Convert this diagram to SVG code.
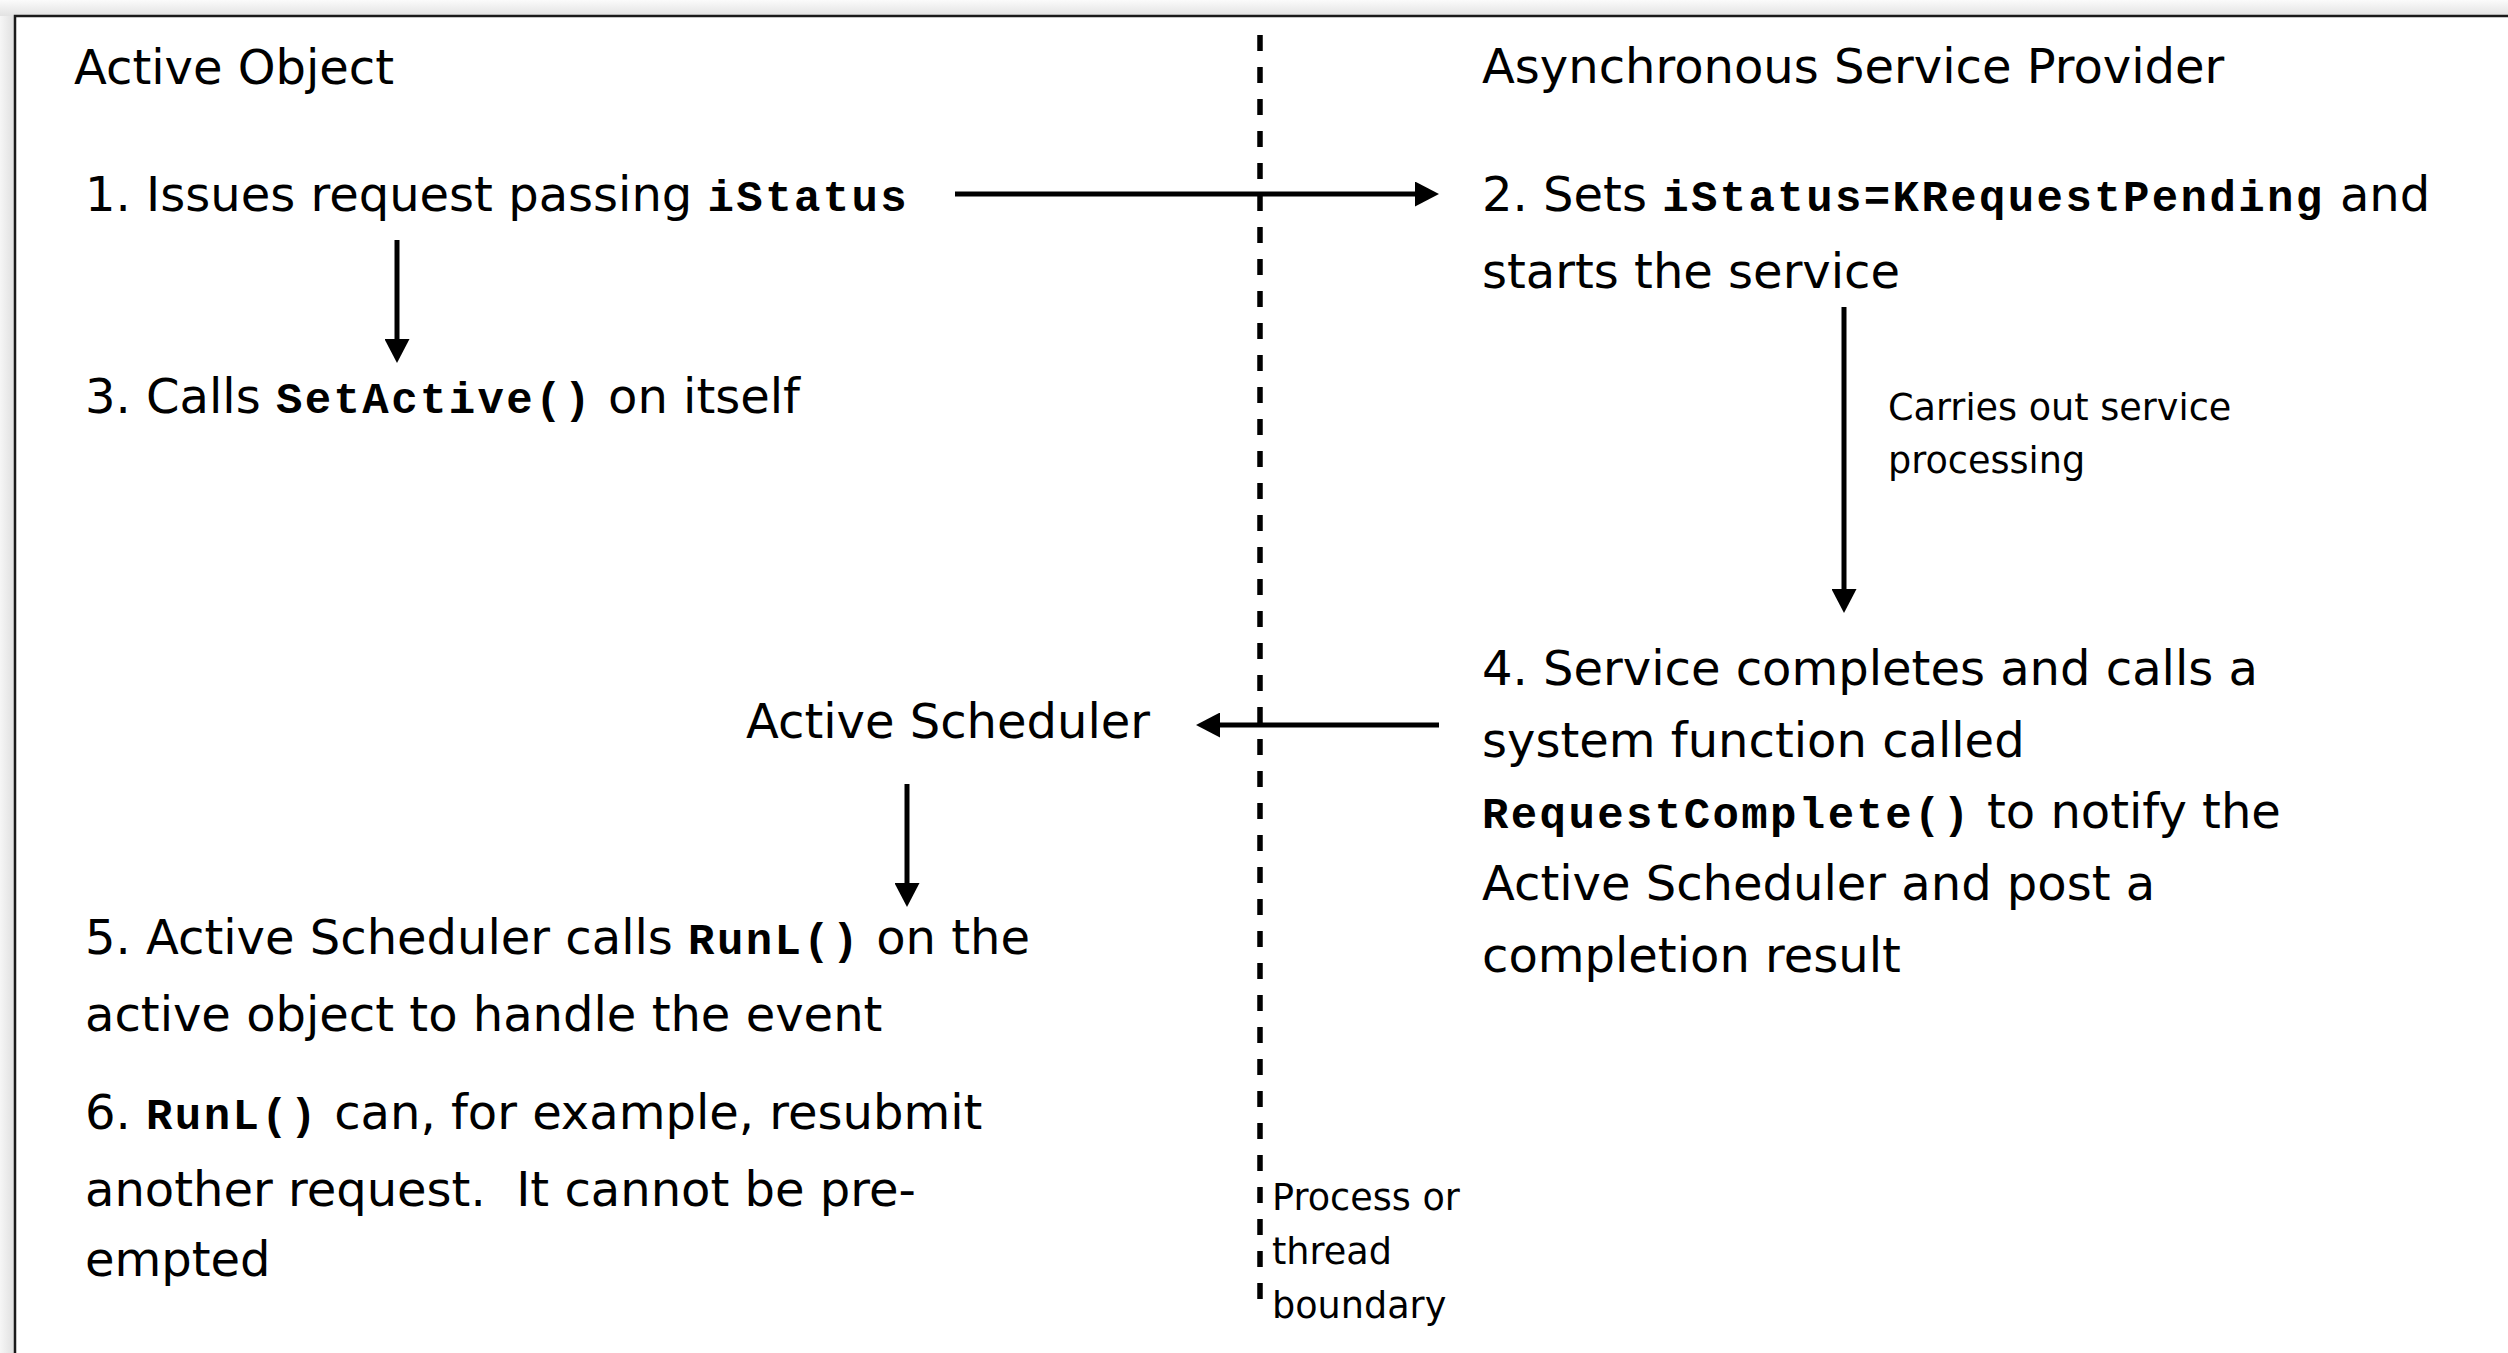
<svg xmlns="http://www.w3.org/2000/svg" width="2508" height="1353" viewBox="0 0 2508 1353">
  <style>
    .t { font-family: "DejaVu Sans", Verdana, sans-serif; font-size: 48px; fill: #000; }
    .s { font-family: "DejaVu Sans", Verdana, sans-serif; font-size: 36.6px; fill: #000; }
    .code { font-family: "Liberation Mono", "Courier New", monospace; font-weight: bold; font-size: 44px; letter-spacing: 2.4px; }
    .arrow { stroke: #000; stroke-width: 5; fill: none; marker-end: url(#head); }
    .boundary { stroke: #000; stroke-width: 5.5; stroke-dasharray: 16 16; fill: none; }
    .frame { stroke: #1a1a1a; stroke-width: 2.5; fill: none; }
  </style>
  <defs>
    <marker id="head" markerUnits="userSpaceOnUse" viewBox="0 0 24 25" markerWidth="24" markerHeight="25" refX="0" refY="12.5" orient="auto">
      <path d="M0,0 L24,12.5 L0,25 Z" fill="#000"/>
    </marker>
    <linearGradient id="shadeTop" x1="0" y1="0" x2="0" y2="1">
      <stop offset="0" stop-color="#fbfbfb"/>
      <stop offset="1" stop-color="#e2e2e2"/>
    </linearGradient>
    <linearGradient id="shadeLeft" x1="0" y1="0" x2="1" y2="0">
      <stop offset="0" stop-color="#f6f6f6"/>
      <stop offset="1" stop-color="#dedede"/>
    </linearGradient>
  </defs>

  <!-- page background with soft edge shading -->
  <rect x="0" y="0" width="2508" height="1353" fill="#fff"/>
  <rect x="0" y="0" width="2508" height="16" fill="url(#shadeTop)"/>
  <rect x="0" y="16" width="15" height="1337" fill="url(#shadeLeft)"/>
  <path class="frame" d="M15,1353 V16 H2508"/>

  <!-- thread / process boundary -->
  <g id="boundary">
    <line class="boundary" x1="1260" y1="35" x2="1260" y2="1300"/>
    <text class="s" x="1272" y="1210">Process or</text>
    <text class="s" x="1272" y="1264">thread</text>
    <text class="s" x="1272" y="1318">boundary</text>
  </g>

  <!-- column headings -->
  <g id="active-object-heading">
    <text class="t" x="74" y="84">Active Object</text>
  </g>
  <g id="provider-heading">
    <text class="t" x="1482" y="83">Asynchronous Service Provider</text>
  </g>

  <!-- steps -->
  <g id="step1">
    <text class="t" x="85" y="211">1. Issues request passing <tspan class="code">iStatus</tspan></text>
  </g>
  <g id="step2">
    <text class="t" x="1482" y="211">2. Sets <tspan class="code">iStatus=KRequestPending</tspan> and</text>
    <text class="t" x="1482" y="288">starts the service</text>
  </g>
  <g id="step3">
    <text class="t" x="85" y="413">3. Calls <tspan class="code">SetActive()</tspan> on itself</text>
  </g>
  <g id="processing-note">
    <text class="s" x="1888" y="420">Carries out service</text>
    <text class="s" x="1888" y="473">processing</text>
  </g>
  <g id="step4">
    <text class="t" x="1482" y="685">4. Service completes and calls a</text>
    <text class="t" x="1482" y="757">system function called</text>
    <text class="t" x="1482" y="828"><tspan class="code">RequestComplete()</tspan> to notify the</text>
    <text class="t" x="1482" y="900">Active Scheduler and post a</text>
    <text class="t" x="1482" y="972">completion result</text>
  </g>
  <g id="active-scheduler">
    <text class="t" x="746" y="738">Active Scheduler</text>
  </g>
  <g id="step5">
    <text class="t" x="85" y="954">5. Active Scheduler calls <tspan class="code">RunL()</tspan> on the</text>
    <text class="t" x="85" y="1031">active object to handle the event</text>
  </g>
  <g id="step6">
    <text class="t" x="85" y="1129">6. <tspan class="code">RunL()</tspan> can, for example, resubmit</text>
    <text class="t" x="85" y="1206" xml:space="preserve">another request.  It cannot be pre-</text>
    <text class="t" x="85" y="1276">empted</text>
  </g>

  <!-- connectors -->
  <g id="connectors">
    <line class="arrow" x1="955" y1="194" x2="1415" y2="194"/>
    <line class="arrow" x1="397" y1="240" x2="397" y2="339"/>
    <line class="arrow" x1="1844" y1="307" x2="1844" y2="589"/>
    <line class="arrow" x1="1439" y1="725" x2="1220" y2="725"/>
    <line class="arrow" x1="907" y1="784" x2="907" y2="883"/>
  </g>
</svg>
